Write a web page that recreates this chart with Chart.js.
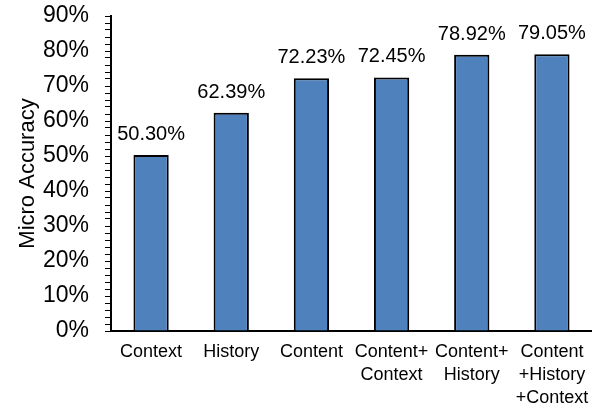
<!DOCTYPE html>
<html>
<head>
<meta charset="utf-8">
<script src="https://cdn.jsdelivr.net/npm/chart.js@4"></script>
<style>
  html, body { margin: 0; padding: 0; background: #fff; }
  #wrap { width: 592px; height: 406px; }
</style>
</head>
<body>
<div id="wrap"><canvas id="chart" width="592" height="406"></canvas></div>
<script>
// categories (multi-line labels) and values in percent
var categories = [
    ["Context"],
    ["History"],
    ["Content"],
    ["Content+", "Context"],
    ["Content+", "History"],
    ["Content", "+History", "+Context"]
];
var accuracy = [50.30, 62.39, 72.23, 72.45, 78.92, 79.05];
var yTicks = [0, 10, 20, 30, 40, 50, 60, 70, 80, 90];

var fontFamily = "'Liberation Sans', Arial, sans-serif";

// draws the value above each bar
var valueLabels = {
    id: 'valueLabels',
    afterDatasetsDraw: function(chart) {
        var ctx = chart.ctx;
        var meta = chart.getDatasetMeta(0);
        ctx.save();
        ctx.font = "20px " + fontFamily;
        ctx.fillStyle = "#000";
        ctx.textAlign = "center";
        ctx.textBaseline = "alphabetic";
        meta.data.forEach(function(bar, i) {
            ctx.fillText(accuracy[i].toFixed(2) + "%", bar.x, bar.y - 15);
        });
        ctx.restore();
    }
};

var ctx = document.getElementById("chart").getContext("2d");

new Chart(ctx, {
    type: "bar",
    data: {
        labels: categories,
        datasets: [{
            data: accuracy,
            backgroundColor: "#4F81BD",
            borderColor: "#000",
            borderWidth: 2,
            categoryPercentage: 1,
            barPercentage: 0.44
        }]
    },
    options: {
        responsive: false,
        animation: false,
        devicePixelRatio: 1,
        layout: {
            padding: 0
        },
        plugins: {
            legend: { display: false },
            tooltip: { enabled: false }
        },
        scales: {
            x: {
                grid: { display: false, drawTicks: false },
                border: { display: true, color: "#000", width: 2 },
                ticks: {
                    color: "#000",
                    padding: 9,
                    maxRotation: 0,
                    autoSkip: false,
                    font: { size: 18, family: fontFamily, lineHeight: 1.3 }
                },
                afterFit: function(scale) {
                    scale.height = 75;
                    scale.paddingLeft = 0;
                    scale.paddingRight = 0;
                }
            },
            y: {
                min: 0,
                max: 90,
                grid: {
                    display: true,
                    drawOnChartArea: false,
                    drawTicks: true,
                    tickLength: 6,
                    color: "#000",
                    lineWidth: 1
                },
                border: { display: true, color: "#000", width: 2 },
                ticks: {
                    stepSize: 2,
                    autoSkip: false,
                    color: "#000",
                    padding: 16,
                    font: { size: 23, family: fontFamily },
                    callback: function(value) {
                        return yTicks.indexOf(value) >= 0 ? value + "%" : "";
                    }
                },
                title: {
                    display: true,
                    text: "Micro Accuracy",
                    color: "#000",
                    font: { size: 22, family: fontFamily },
                    padding: { top: 15, bottom: 0 }
                },
                afterFit: function(scale) {
                    scale.width = 111;
                    scale.paddingTop = 16;
                    scale.paddingBottom = 0;
                }
            }
        }
    },
    plugins: [valueLabels]
});
</script>
</body>
</html>
